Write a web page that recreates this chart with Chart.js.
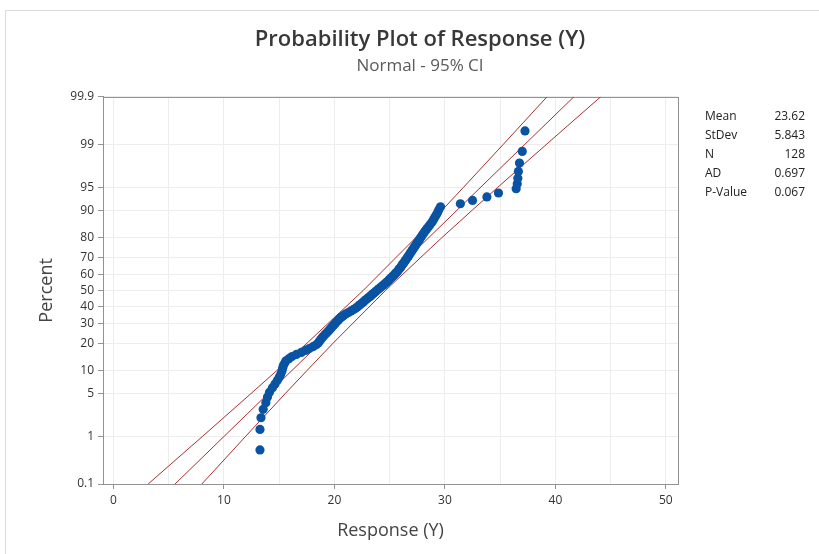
<!DOCTYPE html>
<html>
<head>
<meta charset="utf-8">
<script src="https://cdn.jsdelivr.net/npm/chart.js@4.4.1/dist/chart.umd.min.js"></script>
<style>
  html, body { margin: 0; padding: 0; background: #fff; }
  #wrap { position: relative; width: 819px; height: 554px; overflow: hidden; }
  #frame { position: absolute; left: 5px; top: 10px; width: 830px; height: 560px; border: 1px solid #dcdcdc; pointer-events: none; }
  #stats { position: absolute; left: 705px; top: 106px; width: 100px; border-collapse: collapse;
           font: 12px "Open Sans", sans-serif; color: #222; }
  #stats td { padding: 0; height: 19px; line-height: 19px; white-space: nowrap; }
  #stats td.v { text-align: right; }
</style>
</head>
<body>
<div id="wrap">
  <canvas id="probChart" width="819" height="554"></canvas>
  <div id="frame"></div>
  <table id="stats"></table>
</div>
<script>
// значения отклика, отсортированы по возрастанию
const responseValues = [
  13.26, 13.26, 13.35, 13.55, 13.79, 13.94, 14.12, 14.39, 14.62, 14.84,
  15.01, 15.15, 15.25, 15.31, 15.37, 15.49, 15.60, 15.88, 16.16, 16.56,
  17.00, 17.38, 17.72, 18.05, 18.35, 18.53, 18.64, 18.75, 18.86, 18.99,
  19.13, 19.26, 19.40, 19.52, 19.64, 19.76, 19.87, 19.99, 20.10, 20.22,
  20.34, 20.47, 20.59, 20.75, 20.92, 21.10, 21.30, 21.50, 21.70, 21.89,
  22.06, 22.20, 22.33, 22.47, 22.61, 22.74, 22.87, 23.00, 23.13, 23.27,
  23.40, 23.52, 23.66, 23.78, 23.92, 24.05, 24.19, 24.32, 24.45, 24.58,
  24.70, 24.82, 24.94, 25.05, 25.17, 25.29, 25.40, 25.50, 25.61, 25.71,
  25.82, 25.91, 25.99, 26.07, 26.16, 26.24, 26.33, 26.42, 26.50, 26.59,
  26.68, 26.76, 26.85, 26.94, 27.03, 27.12, 27.21, 27.30, 27.39, 27.49,
  27.59, 27.70, 27.80, 27.91, 28.01, 28.13, 28.26, 28.39, 28.54, 28.68,
  28.84, 28.96, 29.08, 29.21, 29.34, 29.45, 29.60, 31.40, 32.50, 33.80,
  34.85, 36.45, 36.55, 36.60, 36.65, 36.75, 37.00, 37.25
];

// линия подгонки и границы 95% ДИ
const fitPercents = [0.1, 99.9];
const fitResponse = [5.57, 41.67];
const ciPercents = [0.1, 1, 5, 10, 20, 50, 80, 90, 95, 99, 99.9];
const ciLower = [3.14, 8.08, 12.46, 14.77, 17.52, 22.61, 27.36, 29.75, 31.68, 35.26, 39.24];
const ciUpper = [8.00, 11.98, 15.56, 17.50, 19.88, 24.63, 29.72, 32.48, 34.78, 39.16, 44.10];

// подписи осей
const percentTicks = [0.1, 1, 5, 10, 20, 30, 40, 50, 60, 70, 80, 90, 95, 99, 99.9];
const responseTicks = [0, 5, 10, 15, 20, 25, 30, 35, 40, 45, 50];

// таблица статистик
const statLabels = ['Mean', 'StDev', 'N', 'AD', 'P-Value'];
const statValues = ['23.62', '5.843', '128', '0.697', '0.067'];

// обратная функция нормального распределения (Acklam)
function probit(p) {
    const a = [-3.969683028665376e+01, 2.209460984245205e+02, -2.759285104469687e+02, 1.383577518672690e+02, -3.066479806614716e+01, 2.506628277459239e+00];
    const b = [-5.447609879822406e+01, 1.615858368580409e+02, -1.556989798598866e+02, 6.680131188771972e+01, -1.328068155288572e+01];
    const c = [-7.784894002430293e-03, -3.223964580411365e-01, -2.400758277161838e+00, -2.549732539343734e+00, 4.374664141464968e+00, 2.938163982698783e+00];
    const d = [7.784695709041462e-03, 3.224671290700398e-01, 2.445134137142996e+00, 3.754408661907416e+00];
    const pl = 0.02425;
    let q, r;
    if (p < pl) {
        q = Math.sqrt(-2 * Math.log(p));
        return (((((c[0]*q+c[1])*q+c[2])*q+c[3])*q+c[4])*q+c[5]) / ((((d[0]*q+d[1])*q+d[2])*q+d[3])*q+1);
    }
    if (p > 1 - pl) {
        q = Math.sqrt(-2 * Math.log(1 - p));
        return -(((((c[0]*q+c[1])*q+c[2])*q+c[3])*q+c[4])*q+c[5]) / ((((d[0]*q+d[1])*q+d[2])*q+d[3])*q+1);
    }
    q = p - 0.5; r = q * q;
    return (((((a[0]*r+a[1])*r+a[2])*r+a[3])*r+a[4])*r+a[5])*q / (((((b[0]*r+b[1])*r+b[2])*r+b[3])*r+b[4])*r+1);
}

const zOf = pct => probit(pct / 100);
const n = responseValues.length;

// позиции точек по медианным рангам, как в Minitab
const pointData = responseValues.map((x, i) => ({ x: x, y: probit((i + 1 - 0.3) / (n + 0.4)) }));
const fitData = fitPercents.map((p, i) => ({ x: fitResponse[i], y: zOf(p) }));
const lowerData = ciPercents.map((p, i) => ({ x: ciLower[i], y: zOf(p) }));
const upperData = ciPercents.map((p, i) => ({ x: ciUpper[i], y: zOf(p) }));

// таблица справа
const stats = document.getElementById('stats');
statLabels.forEach((lab, i) => {
    const tr = document.createElement('tr');
    tr.innerHTML = '<td>' + lab + '</td><td class="v">' + statValues[i] + '</td>';
    stats.appendChild(tr);
});

Chart.defaults.font.family = '"Open Sans", sans-serif';

const lineColor = '#a3302f';
const axisColor = '#929292';

// рамка вокруг области построения
const plotFrame = {
    id: 'plotFrame',
    beforeDatasetsDraw(chart) {
        const { ctx, chartArea: a } = chart;
        ctx.save();
        ctx.strokeStyle = axisColor;
        ctx.lineWidth = 1;
        ctx.strokeRect(Math.round(a.left) + 0.5, Math.round(a.top) + 0.5,
                       Math.round(a.right - a.left), Math.round(a.bottom - a.top));
        ctx.restore();
    }
};

new Chart(document.getElementById('probChart'), {
    type: 'scatter',
    data: {
        datasets: [
            { data: pointData, backgroundColor: '#0a53a3', borderWidth: 0, pointRadius: 4.6 },
            { data: fitData, showLine: true, borderColor: lineColor, borderWidth: 1, pointRadius: 0 },
            { data: lowerData, showLine: true, borderColor: lineColor, borderWidth: 1, pointRadius: 0 },
            { data: upperData, showLine: true, borderColor: lineColor, borderWidth: 1, pointRadius: 0 }
        ]
    },
    options: {
        responsive: false,
        animation: false,
        layout: { padding: { left: 21, right: 0, top: 0, bottom: 0 } },
        plugins: {
            legend: { display: false },
            tooltip: { enabled: false },
            title: {
                display: true,
                text: 'Probability Plot of Response (Y)',
                color: '#383838',
                font: { size: 22, weight: '600' },
                padding: { top: 27, bottom: 0 }
            },
            subtitle: {
                display: true,
                text: 'Normal - 95% CI',
                color: '#5a5a5a',
                font: { size: 17, weight: 'normal' },
                padding: { top: 3, bottom: 20 }
            }
        },
        scales: {
            x: {
                type: 'linear',
                min: -0.95,
                max: 51.1,
                afterBuildTicks: s => { s.ticks = responseTicks.map(v => ({ value: v })); },
                afterFit: s => { s.height = 70; },
                ticks: {
                    autoSkip: false,
                    maxRotation: 0,
                    color: '#333',
                    font: { size: 12 },
                    padding: 4,
                    callback: v => (v % 10 === 0 ? String(v) : '')
                },
                grid: {
                    color: '#ededed',
                    tickLength: 5,
                    tickColor: ctx => (ctx.tick && ctx.tick.value % 10 === 0 ? axisColor : 'rgba(0,0,0,0)')
                },
                border: { color: axisColor },
                title: {
                    display: true,
                    text: 'Response (Y)',
                    color: '#444',
                    font: { size: 18 },
                    padding: { top: 0, bottom: 12 }
                }
            },
            y: {
                type: 'linear',
                min: zOf(0.1),
                max: zOf(99.9),
                afterBuildTicks: s => { s.ticks = percentTicks.map(p => ({ value: zOf(p) })); },
                afterFit: s => { s.width = 82; },
                ticks: {
                    autoSkip: false,
                    color: '#333',
                    font: { size: 12 },
                    padding: 4,
                    callback: (v, i) => String(percentTicks[i])
                },
                grid: { color: '#ededed', tickLength: 5, tickColor: axisColor },
                border: { color: axisColor },
                title: {
                    display: true,
                    text: 'Percent',
                    color: '#444',
                    font: { size: 18 },
                    padding: { top: 15, bottom: 0 }
                }
            },
            yRight: {
                type: 'linear',
                position: 'right',
                afterFit: s => { s.width = 141; },
                ticks: { display: false },
                grid: { display: false },
                border: { display: false }
            }
        }
    },
    plugins: [plotFrame]
});
</script>
</body>
</html>
